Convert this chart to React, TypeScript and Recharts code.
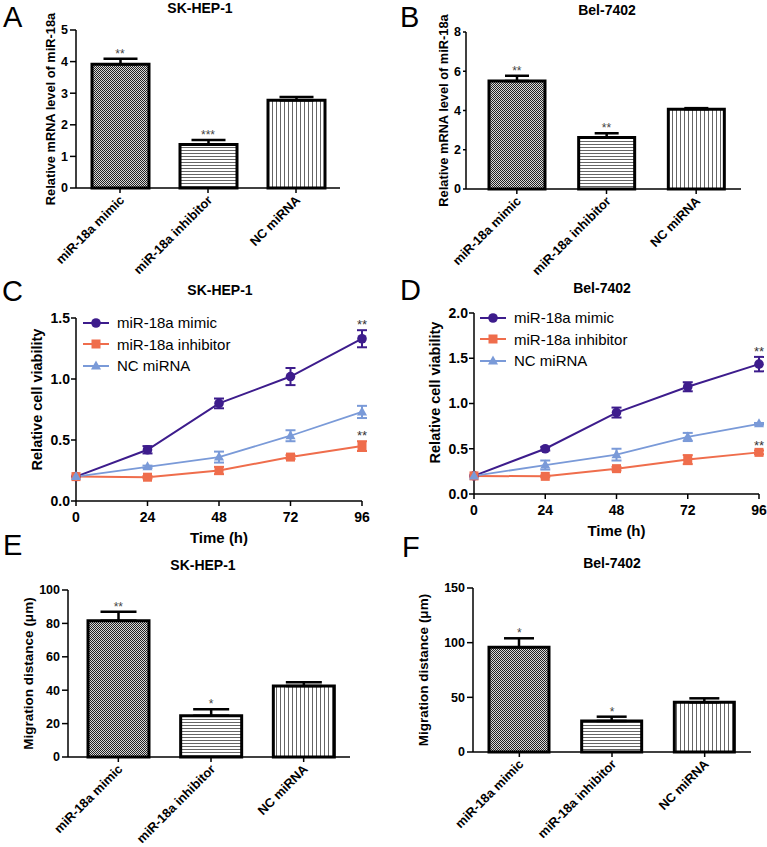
import React from 'react';
import {
  BarChart,
  Bar,
  Cell,
  XAxis,
  YAxis,
  ErrorBar,
  ReferenceDot,
  LineChart,
  Line,
  Legend,
} from 'recharts';

const FONT = '"Liberation Sans", Arial, sans-serif';
const PURPLE = '#3d1c8c';
const ORANGE = '#ef6d4c';
const BLUE = '#7a9ad8';

const groups = ['miR-18a mimic', 'miR-18a inhibitor', 'NC miRNA'];

// A / B: relative mRNA level of miR-18a
const mrnaSk = [3.92, 1.38, 2.78];
const mrnaSkErr = [0.17, 0.14, 0.1];
const mrnaSkStars = ['**', '***', ''];
const mrnaBel = [5.5, 2.62, 4.07];
const mrnaBelErr = [0.27, 0.22, 0.05];
const mrnaBelStars = ['**', '**', ''];

// C / D: cell viability over time
const hours = [0, 24, 48, 72, 96];
const skMimic = [0.2, 0.42, 0.8, 1.02, 1.33];
const skMimicErr = [0, 0.03, 0.04, 0.07, 0.07];
const skInh = [0.2, 0.195, 0.25, 0.36, 0.45];
const skInhErr = [0, 0.01, 0.03, 0.015, 0.04];
const skNc = [0.2, 0.28, 0.36, 0.535, 0.73];
const skNcErr = [0, 0.01, 0.045, 0.045, 0.05];
const belMimic = [0.2, 0.5, 0.9, 1.185, 1.435];
const belMimicErr = [0, 0.02, 0.055, 0.05, 0.08];
const belInh = [0.2, 0.195, 0.28, 0.38, 0.46];
const belInhErr = [0, 0.01, 0.02, 0.05, 0.02];
const belNc = [0.2, 0.32, 0.435, 0.63, 0.775];
const belNcErr = [0, 0.05, 0.065, 0.045, 0.01];

// E / F: migration distance
const migSk = [81.6, 24.7, 42.5];
const migSkErr = [5.4, 3.9, 2.2];
const migSkStars = ['**', '*', ''];
const migBel = [95.8, 28.4, 45.5];
const migBelErr = [8.2, 3.9, 3.6];
const migBelStars = ['*', '*', ''];

const barRows = (vals: number[], errs: number[]) =>
  groups.map((name, i) => ({ name, value: vals[i], err: [0, errs[i]] }));

const lineRows = (m: number[], me: number[], h: number[], he: number[], n: number[], ne: number[]) =>
  hours.map((t, i) => ({
    t,
    mimic: m[i],
    mimicErr: me[i],
    inh: h[i],
    inhErr: he[i],
    nc: n[i],
    ncErr: ne[i],
  }));

const axisStyle = { stroke: '#000', strokeWidth: 1.5 };

const RotTick = (props: any) => {
  const { x, y, payload } = props;
  const ax = x + 5;
  const ay = y + 6;
  return (
    <text
      x={ax}
      y={ay}
      transform={`rotate(-45, ${ax}, ${ay})`}
      textAnchor="end"
      fontSize={12.8}
      fontWeight="bold"
      fontFamily={FONT}
      fill="#000"
    >
      {payload.value}
    </text>
  );
};

function BarPanel(p: any) {
  const data = barRows(p.values, p.errs);
  const fills = [`url(#${p.id}-chk)`, `url(#${p.id}-hz)`, `url(#${p.id}-vt)`];
  return (
    <div style={{ position: 'absolute', left: p.left, top: p.top }}>
      <BarChart
        width={p.width}
        height={p.height}
        data={data}
        margin={{ top: p.mTop, right: p.mRight, left: 0, bottom: 0 }}
      >
        <defs>
          <pattern id={`${p.id}-chk`} width={2} height={2} patternUnits="userSpaceOnUse">
            <rect width={2} height={2} fill="#d8d8d8" shapeRendering="crispEdges" />
            <rect width={1} height={1} fill="#222" shapeRendering="crispEdges" />
            <rect x={1} y={1} width={1} height={1} fill="#222" shapeRendering="crispEdges" />
          </pattern>
          <pattern id={`${p.id}-hz`} width={4} height={3} patternUnits="userSpaceOnUse">
            <rect width={4} height={3} fill="#fff" shapeRendering="crispEdges" />
            <rect y={0} width={4} height={1} fill="#666" shapeRendering="crispEdges" />
          </pattern>
          <pattern id={`${p.id}-vt`} width={4} height={4} patternUnits="userSpaceOnUse">
            <rect width={4} height={4} fill="#fff" shapeRendering="crispEdges" />
            <rect x={0} width={1} height={4} fill="#666" shapeRendering="crispEdges" />
          </pattern>
        </defs>
        <XAxis
          dataKey="name"
          height={p.xHeight}
          interval={0}
          padding={{ left: p.padLeft, right: 0 }}
          axisLine={axisStyle}
          tickLine={axisStyle}
          tickSize={5}
          tickMargin={2}
          tick={<RotTick />}
        />
        <YAxis
          width={p.yWidth}
          domain={[0, p.yMax]}
          ticks={p.yTicks}
          interval={0}
          axisLine={axisStyle}
          tickLine={axisStyle}
          tickSize={p.tickLen}
          tickMargin={2}
          tick={{ fill: '#000', fontSize: 12.5, fontWeight: 'bold', fontFamily: FONT }}
          label={{
            value: p.yLabel,
            angle: -90,
            position: 'center',
            dx: p.labelDx,
            style: { fill: '#000', fontSize: p.labelSize, fontWeight: 'bold', fontFamily: FONT },
          }}
        />
        <Bar dataKey="value" barSize={p.barSize} stroke="#000" strokeWidth={3} isAnimationActive={false}>
          {data.map((d, i) => (
            <Cell key={d.name} fill={fills[i]} />
          ))}
          <ErrorBar dataKey="err" direction="y" width={p.cap} stroke="#000" strokeWidth={2.5} />
        </Bar>
        {p.stars.map((s: string, i: number) =>
          s ? (
            <ReferenceDot
              key={groups[i]}
              x={groups[i]}
              y={p.values[i] + p.errs[i]}
              r={0.01}
              fill="none"
              stroke="none"
              ifOverflow="visible"
              label={{ value: s, position: 'top', offset: 1, fill: '#444', fontSize: 12, fontFamily: FONT }}
            />
          ) : null,
        )}
      </BarChart>
    </div>
  );
}

const marker = (type: string, cx: number, cy: number, color: string, key?: any) => {
  if (type === 'square') {
    return <rect key={key} x={cx - 4.5} y={cy - 4.5} width={9} height={9} fill={color} />;
  }
  if (type === 'triangle') {
    return (
      <polygon
        key={key}
        points={`${cx},${cy - 5.5} ${cx - 5},${cy + 3.5} ${cx + 5},${cy + 3.5}`}
        fill={color}
      />
    );
  }
  return <circle key={key} cx={cx} cy={cy} r={4.8} fill={color} />;
};

const dotOf = (type: string, color: string) => (props: any) =>
  marker(type, props.cx, props.cy, color, `${type}-${props.index}`);

const seriesOrder = ['miR-18a mimic', 'miR-18a inhibitor', 'NC miRNA'];

const LegendBox = (props: any) => {
  const items = [...(props.payload || [])].sort(
    (a: any, b: any) => seriesOrder.indexOf(a.value) - seriesOrder.indexOf(b.value),
  );
  return (
    <div style={{ fontFamily: FONT, fontSize: 15, color: '#000' }}>
      {items.map((e: any) => (
        <div key={e.value} style={{ display: 'flex', alignItems: 'center', height: 21.5 }}>
          <svg width={26} height={12}>
            <line x1={0} y1={6} x2={26} y2={6} stroke={e.color} strokeWidth={2} />
            {marker(e.type, 13, 6, e.color)}
          </svg>
          <span style={{ marginLeft: 8, whiteSpace: 'nowrap' }}>{e.value}</span>
        </div>
      ))}
    </div>
  );
};

function LinePanel(p: any) {
  const data = p.data;
  const last = data[data.length - 1];
  return (
    <div style={{ position: 'absolute', left: p.left, top: p.top }}>
      <LineChart
        width={p.width}
        height={p.height}
        data={data}
        margin={{ top: p.mTop, right: p.mRight, left: 0, bottom: 0 }}
      >
        <XAxis
          dataKey="t"
          type="number"
          domain={[0, 96]}
          ticks={hours}
          interval={0}
          height={p.xHeight}
          axisLine={axisStyle}
          tickLine={axisStyle}
          tickSize={5}
          tickMargin={6}
          tick={{ fill: '#000', fontSize: 14, fontWeight: 'bold', fontFamily: FONT }}
          label={{
            value: 'Time (h)',
            position: 'insideTop',
            offset: 31,
            style: { fill: '#000', fontSize: 15, fontWeight: 'bold', fontFamily: FONT },
          }}
        />
        <YAxis
          width={p.yWidth}
          domain={[0, p.yMax]}
          ticks={p.yTicks}
          interval={0}
          tickFormatter={(v: number) => v.toFixed(1)}
          axisLine={axisStyle}
          tickLine={axisStyle}
          tickSize={5}
          tickMargin={1}
          tick={{ fill: '#000', fontSize: 14, fontWeight: 'bold', fontFamily: FONT }}
          label={{
            value: 'Relative cell viability',
            angle: -90,
            position: 'center',
            dx: p.labelDx,
            dy: p.labelDy,
            style: { fill: '#000', fontSize: 14.5, fontWeight: 'bold', fontFamily: FONT },
          }}
        />
        <Legend
          layout="vertical"
          align="center"
          verticalAlign="middle"
          wrapperStyle={{ left: p.legLeft, top: p.legTop, width: 'auto' }}
          content={(lp: any) => <LegendBox {...lp} />}
        />
        <Line
          dataKey="mimic"
          name="miR-18a mimic"
          stroke={PURPLE}
          strokeWidth={2}
          legendType="circle"
          dot={dotOf('circle', PURPLE)}
          activeDot={false}
          isAnimationActive={false}
        >
          <ErrorBar dataKey="mimicErr" direction="y" width={5} stroke={PURPLE} strokeWidth={2} />
        </Line>
        <Line
          dataKey="inh"
          name="miR-18a inhibitor"
          stroke={ORANGE}
          strokeWidth={2}
          legendType="square"
          dot={dotOf('square', ORANGE)}
          activeDot={false}
          isAnimationActive={false}
        >
          <ErrorBar dataKey="inhErr" direction="y" width={5} stroke={ORANGE} strokeWidth={2} />
        </Line>
        <Line
          dataKey="nc"
          name="NC miRNA"
          stroke={BLUE}
          strokeWidth={1.8}
          legendType="triangle"
          dot={dotOf('triangle', BLUE)}
          activeDot={false}
          isAnimationActive={false}
        >
          <ErrorBar dataKey="ncErr" direction="y" width={5} stroke={BLUE} strokeWidth={2} />
        </Line>
        <ReferenceDot
          x={96}
          y={last.mimic + last.mimicErr}
          r={0.01}
          fill="none"
          stroke="none"
          ifOverflow="visible"
          label={{ value: '**', position: 'top', offset: 1, fill: '#333', fontSize: 13, fontFamily: FONT }}
        />
        <ReferenceDot
          x={96}
          y={last.inh + last.inhErr}
          r={0.01}
          fill="none"
          stroke="none"
          ifOverflow="visible"
          label={{ value: '**', position: 'top', offset: 1, fill: '#333', fontSize: 13, fontFamily: FONT }}
        />
      </LineChart>
    </div>
  );
}

export default function App() {
  const letter = { fontSize: 29, fontFamily: FONT, fill: '#000' };
  const title = { fontSize: 14, fontFamily: FONT, fontWeight: 'bold' as const, fill: '#000' };
  return (
    <div
      style={{
        position: 'absolute',
        left: 0,
        top: 0,
        width: 767,
        height: 847,
        background: '#fff',
        fontFamily: FONT,
        overflow: 'hidden',
      }}
    >
      <svg width={767} height={847} style={{ position: 'absolute', left: 0, top: 0 }}>
        <text x={3} y={27} {...letter}>A</text>
        <text x={400} y={27} {...letter}>B</text>
        <text x={2} y={301} {...letter}>C</text>
        <text x={400} y={300} {...letter}>D</text>
        <text x={3} y={555} {...letter}>E</text>
        <text x={402} y={557} {...letter}>F</text>
        <text x={200} y={13} textAnchor="middle" {...title}>SK-HEP-1</text>
        <text x={607} y={15} textAnchor="middle" {...title}>Bel-7402</text>
        <text x={220} y={295} textAnchor="middle" {...title}>SK-HEP-1</text>
        <text x={602} y={293} textAnchor="middle" {...title}>Bel-7402</text>
        <text x={203} y={570} textAnchor="middle" {...title}>SK-HEP-1</text>
        <text x={612} y={568} textAnchor="middle" {...title}>Bel-7402</text>
      </svg>

      <BarPanel
        id="pa"
        left={0}
        top={0}
        width={383}
        height={290}
        mTop={30}
        mRight={43}
        xHeight={102}
        yWidth={76}
        padLeft={0}
        barSize={57}
        cap={17}
        tickLen={6}
        values={mrnaSk}
        errs={mrnaSkErr}
        stars={mrnaSkStars}
        yMax={5}
        yTicks={[0, 1, 2, 3, 4, 5]}
        yLabel="Relative mRNA level of miR-18a"
        labelDx={12}
        labelSize={12.8}
      />
      <BarPanel
        id="pb"
        left={380}
        top={0}
        width={387}
        height={290}
        mTop={32}
        mRight={26}
        xHeight={101}
        yWidth={86}
        padLeft={6}
        barSize={56}
        cap={12}
        tickLen={3}
        values={mrnaBel}
        errs={mrnaBelErr}
        stars={mrnaBelStars}
        yMax={8}
        yTicks={[0, 2, 4, 6, 8]}
        yLabel="Relative mRNA level of miR-18a"
        labelDx={20}
        labelSize={12.8}
      />
      <LinePanel
        left={0}
        top={300}
        width={383}
        height={250}
        mTop={18}
        mRight={21}
        xHeight={49}
        yWidth={76}
        yMax={1.5}
        yTicks={[0, 0.5, 1, 1.5]}
        labelDx={-1}
        labelDy={-10}
        legLeft={83}
        legTop={12}
        data={lineRows(skMimic, skMimicErr, skInh, skInhErr, skNc, skNcErr)}
      />
      <LinePanel
        left={380}
        top={300}
        width={387}
        height={250}
        mTop={13}
        mRight={8}
        xHeight={56}
        yWidth={94}
        yMax={2}
        yTicks={[0, 0.5, 1, 1.5, 2]}
        labelDx={8}
        labelDy={-11}
        legLeft={100}
        legTop={7}
        data={lineRows(belMimic, belMimicErr, belInh, belInhErr, belNc, belNcErr)}
      />
      <BarPanel
        id="pe"
        left={0}
        top={560}
        width={383}
        height={287}
        mTop={30}
        mRight={33}
        xHeight={90}
        yWidth={68}
        padLeft={4}
        barSize={61}
        cap={18}
        tickLen={6}
        values={migSk}
        errs={migSkErr}
        stars={migSkStars}
        yMax={100}
        yTicks={[0, 20, 40, 60, 80, 100]}
        yLabel="Migration distance (μm)"
        labelDx={-6}
        labelSize={13.5}
      />
      <BarPanel
        id="pf"
        left={380}
        top={560}
        width={387}
        height={287}
        mTop={28}
        mRight={16}
        xHeight={95}
        yWidth={93}
        padLeft={0}
        barSize={60}
        cap={15}
        tickLen={6}
        values={migBel}
        errs={migBelErr}
        stars={migBelStars}
        yMax={150}
        yTicks={[0, 50, 100, 150]}
        yLabel="Migration distance (μm)"
        labelDx={-3.5}
        labelSize={13.5}
      />
    </div>
  );
}
